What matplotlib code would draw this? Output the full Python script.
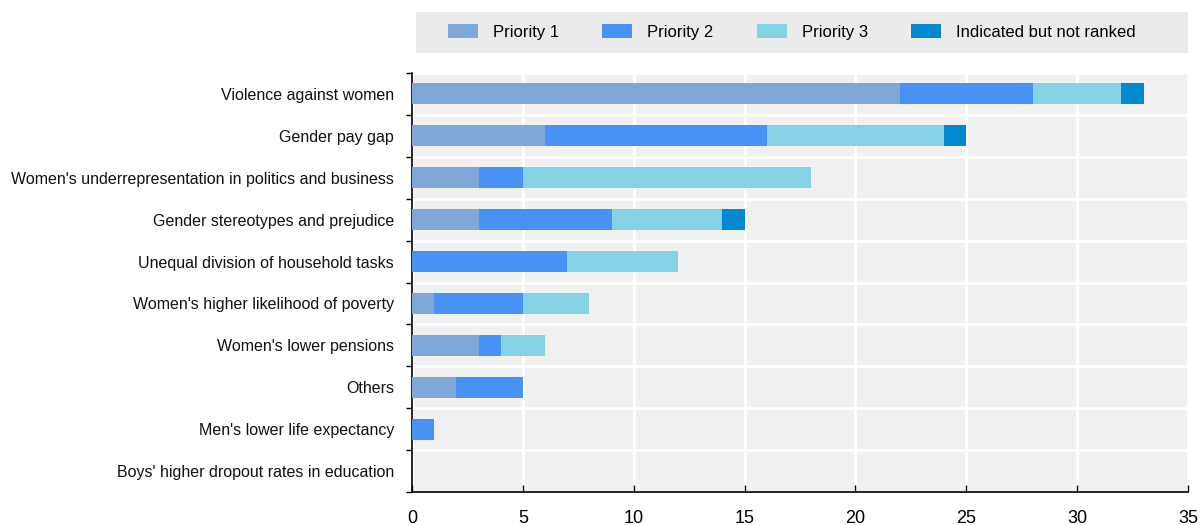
import numpy as np
import matplotlib.pyplot as plt
from matplotlib.patches import Rectangle

plt.rcParams['font.family'] = ['Liberation Sans', 'DejaVu Sans']

categories = ["Violence against women", "Gender pay gap",
              "Women's underrepresentation in politics and business",
              "Gender stereotypes and prejudice", "Unequal division of household tasks",
              "Women's higher likelihood of poverty", "Women's lower pensions", "Others",
              "Men's lower life expectancy", "Boys' higher dropout rates in education"]
priority1 = [22, 6, 3, 3, 0, 1, 3, 2, 0, 0]
priority2 = [6, 10, 2, 6, 7, 4, 1, 3, 1, 0]
priority3 = [4, 8, 13, 5, 5, 3, 2, 0, 0, 0]
not_ranked = [1, 1, 0, 1, 0, 0, 0, 0, 0, 0]
series_names = ["Priority 1", "Priority 2", "Priority 3", "Indicated but not ranked"]
colors = ["#7fa8d9", "#4891f5", "#84d2e4", "#0089d0"]

fig = plt.figure(figsize=(12, 5.25), dpi=100)
ax = fig.add_axes([412/1200, 33/525, 776/1200, 419/525])
ax.set_facecolor('#f0f0f0')

y = np.arange(len(categories))
left = np.zeros(len(categories))
for vals, name, c in zip([priority1, priority2, priority3, not_ranked], series_names, colors):
    vals = np.array(vals, dtype=float)
    ax.barh(y, vals, left=left, height=0.5, color=c, label=name,
            linewidth=0, zorder=3)
    left += vals

ax.set_xlim(0, 35)
ax.set_ylim(len(categories) - 0.5, -0.5)
ax.set_xticks(np.arange(0, 36, 5))
ax.xaxis.grid(True, color='white', linewidth=2, zorder=1)
ax.set_axisbelow(True)

# white lines between categories, labels on minor ticks
ax.set_yticks(np.arange(-0.5, len(categories), 1))
ax.set_yticklabels([])
ax.set_yticks(y, minor=True)
ax.set_yticklabels(categories, minor=True, fontsize=11.5, color='#111111')
ax.tick_params(axis='y', which='minor', length=0, pad=13)
ax.tick_params(axis='y', which='major', length=4, width=1, color='black', direction='out')
ax.yaxis.grid(True, which='major', color='white', linewidth=2, zorder=1)

ax.tick_params(axis='x', direction='in', length=5, width=1, pad=13, labelsize=13, colors='black')
for s in ['top', 'right']:
    ax.spines[s].set_visible(False)
ax.spines['left'].set_linewidth(1.2)
ax.spines['bottom'].set_linewidth(1.2)

# legend box
fig.patches.append(Rectangle((416/1200, 1 - 53/525), 772/1200, 41/525,
                             transform=fig.transFigure, facecolor='#ebebeb',
                             edgecolor='none', zorder=0))
handles, labels = ax.get_legend_handles_labels()
fig.legend(handles, labels, loc='center', bbox_to_anchor=(792/1200, 1 - 32/525),
           ncol=4, frameon=False, handlelength=1.8, handleheight=0.96,
           handletextpad=0.9, columnspacing=2.6, fontsize=12)

fig.savefig('out.png', dpi=100)
